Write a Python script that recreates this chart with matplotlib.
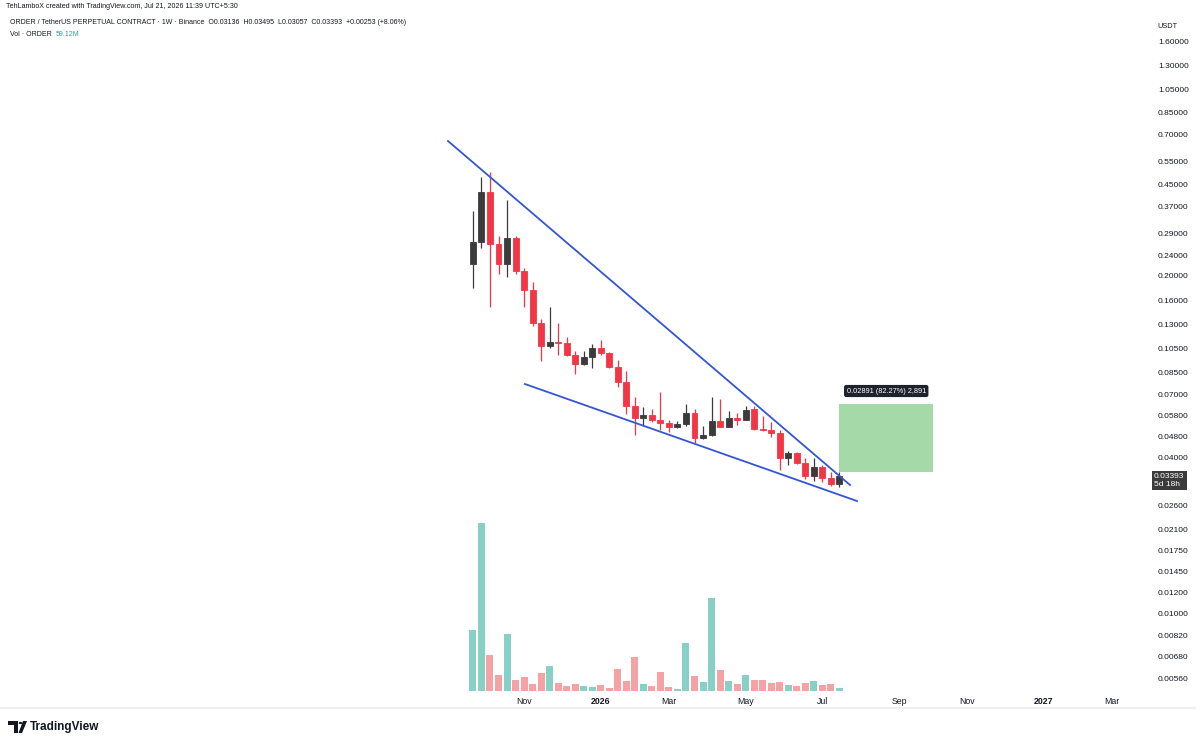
import numpy as np
import pandas as pd
import matplotlib
matplotlib.use('Agg')
import matplotlib.pyplot as plt
from matplotlib.patches import Rectangle, Polygon, Circle
from matplotlib.ticker import FixedLocator, NullLocator

plt.rcParams['font.family'] = ['Liberation Sans', 'DejaVu Sans']

# weekly candles ORDER/USDT (from 2025-09-22)
start_week = '2025-09-22'
opens = [0.2226, 0.2693, 0.4198, 0.2645, 0.2215, 0.2804, 0.2087, 0.1758, 0.1311, 0.1075, 0.1114,
         0.1101, 0.0990, 0.0914, 0.0970, 0.1050, 0.1005, 0.0887, 0.0781, 0.0629, 0.0567, 0.0580,
         0.0558, 0.0542, 0.0521, 0.0536, 0.0593, 0.0472, 0.0485, 0.0552, 0.0524, 0.0566, 0.0558,
         0.0611, 0.0513, 0.0507, 0.0495, 0.0395, 0.0413, 0.0380, 0.0338, 0.0367, 0.0331, 0.03136]
highs = [0.3565, 0.4796, 0.5013, 0.2847, 0.3920, 0.2836, 0.2143, 0.1898, 0.1359, 0.1512, 0.1318,
         0.1164, 0.1028, 0.1028, 0.1091, 0.1131, 0.1019, 0.0947, 0.0861, 0.0683, 0.0625, 0.0611,
         0.0711, 0.0558, 0.0552, 0.0640, 0.0611, 0.0527, 0.0683, 0.0668, 0.0604, 0.0593, 0.0631,
         0.0631, 0.0576, 0.0547, 0.0508, 0.0423, 0.0419, 0.0395, 0.0395, 0.0373, 0.0351, 0.03495]
lows = [0.1799, 0.2553, 0.1520, 0.2026, 0.1978, 0.2037, 0.1516, 0.1280, 0.0941, 0.1050, 0.0990,
        0.0985, 0.0836, 0.0906, 0.0879, 0.0990, 0.0879, 0.0747, 0.0586, 0.0486, 0.0527, 0.0547,
        0.0508, 0.0501, 0.0516, 0.0527, 0.0454, 0.0470, 0.0482, 0.0521, 0.0521, 0.0532, 0.0556,
        0.0508, 0.0504, 0.0476, 0.0356, 0.0373, 0.0376, 0.0328, 0.0324, 0.0321, 0.0310, 0.03057]
closes = [0.2693, 0.4198, 0.2645, 0.2215, 0.2804, 0.2087, 0.1758, 0.1311, 0.1075, 0.1114, 0.1101,
          0.0990, 0.0914, 0.0970, 0.1050, 0.1005, 0.0887, 0.0781, 0.0629, 0.0567, 0.0581, 0.0556,
          0.0542, 0.0521, 0.0536, 0.0593, 0.0472, 0.0485, 0.0552, 0.0524, 0.0564, 0.0558, 0.0607,
          0.0512, 0.0507, 0.0494, 0.0395, 0.0413, 0.0380, 0.0338, 0.0367, 0.0331, 0.03136, 0.03393]
# volume in millions
volumes = [1345, 3725, 791, 355, 1256, 236, 303, 148, 392, 547, 185, 103, 148, 118, 89, 133, 67,
           495, 222, 746, 148, 103, 414, 81, 52, 1064, 325, 200, 2062, 466, 222, 148, 355, 251,
           236, 170, 200, 133, 111, 185, 222, 126, 155, 59.12]

price_ticks = [1.6, 1.3, 1.05, 0.85, 0.70, 0.55, 0.45, 0.37, 0.29, 0.24, 0.20, 0.16, 0.13, 0.105,
               0.085, 0.07, 0.058, 0.048, 0.04, 0.026, 0.021, 0.0175, 0.0145, 0.012, 0.010,
               0.0082, 0.0068, 0.0056]
tick_dates = ['2025-11-03', '2026-01-05', '2026-03-02', '2026-05-04', '2026-07-06',
              '2026-09-07', '2026-11-02', '2027-01-04', '2027-03-01']
tick_labels = ['Nov', '2026', 'Mar', 'May', 'Jul', 'Sep', 'Nov', '2027', 'Mar']

# drawings: falling wedge (week index, price) and long position box
upper_line = ([-2.93, 44.25], [0.662, 0.0312])
lower_line = ([6.10, 45.07], [0.0765, 0.02706])
box_weeks = [43, 54]
box_prices = [0.03514, 0.06405]
last_price = 0.03393

weeks = pd.date_range(start_week, periods=len(opens), freq='7D')
x = ((weeks - pd.Timestamp(start_week)).days / 7).values
tick_pos = ((pd.to_datetime(tick_dates) - pd.Timestamp(start_week)).days / 7).values

o = np.array(opens); c = np.array(closes); h = np.array(highs); l = np.array(lows)
up = c >= o
up_col, dn_col = '#3b3b3b', '#f23645'
cols = np.where(up, up_col, dn_col)
vcols = np.where(up, '#86d0c5', '#f5a2a5')

W, H = 1200, 744
fig = plt.figure(figsize=(12, 7.44), dpi=100)
rect = [0, 1 - 691 / H, 1147 / W, (691 - 16) / H]
ax = fig.add_axes(rect)
axv = fig.add_axes(rect, sharex=ax)
axv.patch.set_visible(False)
ax.patch.set_visible(False)
ax.set_zorder(axv.get_zorder() + 1)

# volume
axv.bar(x, volumes, width=0.82, color=vcols, linewidth=0)
axv.set_ylim(0, max(volumes) * 675 / 168)
axv.axis('off')

# candles
ax.set_yscale('log')
ax.vlines(x, l, h, colors=cols, linewidth=0.9)
ax.bar(x, np.abs(c - o), bottom=np.minimum(o, c), width=0.7, color=cols,
       edgecolor=cols, linewidth=0.6)

# wedge lines
ax.plot(*upper_line, color='#3355d6', linewidth=1.3)
ax.plot(*lower_line, color='#3355d6', linewidth=1.3)

# long position box
ax.add_patch(Rectangle((box_weeks[0], box_prices[0]), box_weeks[1] - box_weeks[0],
                       box_prices[1] - box_prices[0], facecolor='#a6d9a8', edgecolor='none'))
diff = box_prices[1] - box_prices[0]
ax.annotate(f'{diff:.5f} ({diff / box_prices[0] * 100:.2f}%) {diff * 1e5:,.0f}',
            xy=(sum(box_weeks) / 2, box_prices[1]), xytext=(0, 13), textcoords='offset pixels',
            ha='center', va='center', fontsize=5.3, color='white',
            bbox=dict(boxstyle='round,pad=0.35,rounding_size=0.3', fc='#1e222d', ec='none'))

ax.set_xlim(-55.5, 79.1)
ax.set_ylim(0.005008, 2.009)

ax.yaxis.tick_right()
ax.yaxis.set_major_locator(FixedLocator(price_ticks))
ax.yaxis.set_minor_locator(NullLocator())
ax.set_yticklabels([f'{v:.5f}' for v in price_ticks])
ax.tick_params(axis='y', length=0, pad=8, labelsize=6, labelcolor='#131722')

ax.set_xticks(tick_pos)
ax.set_xticklabels(tick_labels)
for lab in ax.get_xticklabels():
    if lab.get_text().isdigit():
        lab.set_fontweight('bold')
ax.tick_params(axis='x', length=0, pad=4, labelsize=6.3, labelcolor='#131722')
for s in ax.spines.values():
    s.set_visible(False)

# current price tag
ax.annotate(f'{last_price:.5f}\n5d 18h', xy=(1.0, last_price), xycoords=('axes fraction', 'data'),
            xytext=(7, -5), textcoords='offset pixels', ha='left', va='center',
            fontsize=6, color='white', linespacing=1.1,
            bbox=dict(boxstyle='square,pad=0.3', fc='#3b3b3b', ec='none'))
fig.text(1157 / W, 1 - 26 / H, 'USDT', fontsize=5.3, color='#131722', va='center')

# header texts
fig.text(6 / W, 1 - 7 / H, 'TehLamboX created with TradingView.com, Jul 21, 2026 11:39 UTC+5:30',
         fontsize=5.1, color='#131722', va='center')
fig.text(10 / W, 1 - 23 / H, 'ORDER / TetherUS PERPETUAL CONTRACT · 1W · Binance  O0.03136  '
         'H0.03495  L0.03057  C0.03393  +0.00253 (+8.06%)',
         fontsize=5.0, color='#131722', va='center')
vol_txt = fig.text(10 / W, 1 - 34 / H, 'Vol · ORDER', fontsize=5.0, color='#131722', va='center')
fig.add_artist(plt.Annotation('59.12M', xy=(1, 0.5), xycoords=vol_txt, xytext=(4, 0),
                              textcoords='offset pixels', fontsize=5.0, color='#26a69a',
                              va='center', ha='left'))

# bottom separator + logo
fig.add_artist(plt.Line2D([0, 1195 / W], [1 - 708 / H, 1 - 708 / H], color='#eeeeee',
                          linewidth=1.5, transform=fig.transFigure))
def px(xp, yp):
    return (xp / W, 1 - yp / H)
fig.add_artist(Polygon([px(8, 721), px(18, 721), px(18, 733), px(14, 733), px(14, 725), px(8, 725)],
                       closed=True, fc='#131722', ec='none', transform=fig.transFigure))
fig.add_artist(Circle(px(20.5, 723), 1.8 / W, fc='#131722', ec='none', transform=fig.transFigure))
fig.add_artist(Polygon([px(23, 721), px(27, 721), px(22, 733), px(18.5, 733)],
                       closed=True, fc='#131722', ec='none', transform=fig.transFigure))
fig.text(30 / W, 1 - 727 / H, 'TradingView', fontsize=8.5, fontweight='bold', color='#131722',
         va='center')

fig.savefig('out.png', dpi=100, facecolor='white')
